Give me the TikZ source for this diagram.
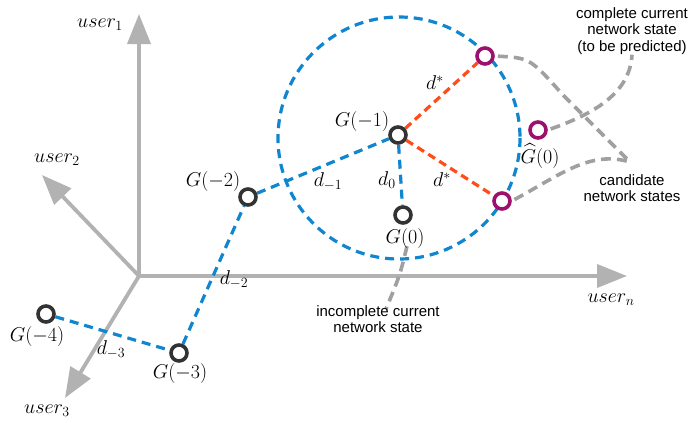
\RequirePackage{fix-cm}
\documentclass[tikz,border=0pt]{standalone}
\usepackage{amsmath}
\usepackage{fontspec}
\newfontfamily\annotfont{Liberation Sans}
\usetikzlibrary{arrows.meta,backgrounds}
\definecolor{axisgray}{RGB}{178,178,178}
\definecolor{curvegray}{RGB}{160,160,160}
\definecolor{dblue}{RGB}{16,134,208}
\definecolor{dorange}{RGB}{255,77,26}
\definecolor{dpurple}{RGB}{158,16,110}
\definecolor{ddark}{RGB}{51,51,51}
\begin{document}
\begin{tikzpicture}[x=1pt,y=-1pt,
 axis/.style={draw=axisgray,line width=3.8pt,-{Triangle[length=30pt,width=23pt]}},
 state/.style={circle,draw=ddark,line width=3.6pt,fill=white,inner sep=0pt,minimum size=16pt},
 cand/.style={state,draw=dpurple},
 bluelink/.style={draw=dblue,line width=3.2pt,dash pattern=on 9pt off 6pt},
 redlink/.style={draw=dorange,line width=3.2pt,dash pattern=on 8pt off 5pt},
 callout/.style={draw=curvegray,line width=3.6pt,dash pattern=on 10pt off 6pt},
 mlabel/.style={inner sep=0pt,font=\fontsize{20}{23}\selectfont},
 note/.style={inner sep=0pt,align=center,font=\annotfont\fontsize{15}{16.5}\selectfont},
]
\useasboundingbox (0,0) rectangle (691,423);

% state nodes
\node[state] (G4) at (46,314) {};
\node[state] (G3) at (179,353) {};
\node[state] (G2) at (248,197) {};
\node[state] (G1) at (398,135) {};
\node[state] (G0) at (403,215) {};
\node[cand] (Gt) at (485,56) {};
\node[cand] (Gm) at (538,130) {};
\node[cand] (Gb) at (502,201) {};

% labels
\node[mlabel] (L4) at (37,336) {$G(-4)$};
\node[mlabel] (L3) at (180,373) {$G(-3)$};
\node[mlabel] (L2) at (213,181) {$G(-2)$};
\node[mlabel] (L1) at (362,121) {$G(-1)$};
\node[mlabel] (L0) at (405,238) {$G(0)$};
\node[mlabel] (Lh) at (540,156) {$\widehat{G}(0)$};
\node[mlabel] (dm1) at (328,182) {$d_{-1}$};
\node[mlabel] (d0) at (387,180) {$d_0$};
\node[mlabel] (dst) at (435,83) {$d^{*}$};
\node[mlabel] (dsb) at (442,180) {$d^{*}$};
\node[mlabel] (dm2) at (234,280) {$d_{-2}$};
\node[mlabel] (dm3) at (111,350) {$d_{-3}$};
\node[mlabel] (U1) at (100,25) {$user_1$};
\node[mlabel] (U2) at (57,160) {$user_2$};
\node[mlabel] (U3) at (47,411) {$user_3$};
\node[mlabel] (Un) at (611,300) {$user_n$};

% notes
\node[note] (ncomp) at (632,31) {complete current\\network state\\(to be predicted)};
\node[note] (ncand) at (632,188) {candidate\\network states};
\node[note] (ninc) at (378,319) {incomplete current\\network state};

\coordinate (J) at (630,162);

\begin{scope}[on background layer]
% axes
\coordinate (O) at (139,276);
\coordinate (A1) at (139,14);
\coordinate (A2) at (42,175);
\coordinate (A3) at (65,398);
\coordinate (An) at (627,276);
\draw[axis] (O) -- (A1);
\draw[axis] (O) -- (A2);
\draw[axis] (O) -- (A3);
\draw[axis] (O) -- (An);
% circle
\coordinate (C) at (399,138);
\draw[bluelink] (C) circle[radius=121];
% links
\draw[bluelink] (G4) -- (G3);
\draw[bluelink] (G3) -- (G2);
\draw[bluelink] (G2) -- (G1);
\draw[bluelink] (G1) -- (G0);
\draw[redlink] (G1) -- (Gt);
\draw[redlink] (G1) -- (Gb);
% callouts
\draw[callout,shorten <=3pt] (Gm.east) .. controls (590,115) and (630,95) .. (ncomp.south);
\draw[callout,shorten <=3pt] (Gt.east) .. controls (530,58) .. (563,95) -- (J);
\draw[callout,shorten <=3pt] (Gb.east) .. controls (560,175) and (590,150) .. (J);
\draw[callout] ([xshift=2pt,yshift=2pt]L0.south) .. controls (400,275) .. ([xshift=8pt,yshift=-4pt]ninc.north);
\end{scope}
\end{tikzpicture}
\end{document}
